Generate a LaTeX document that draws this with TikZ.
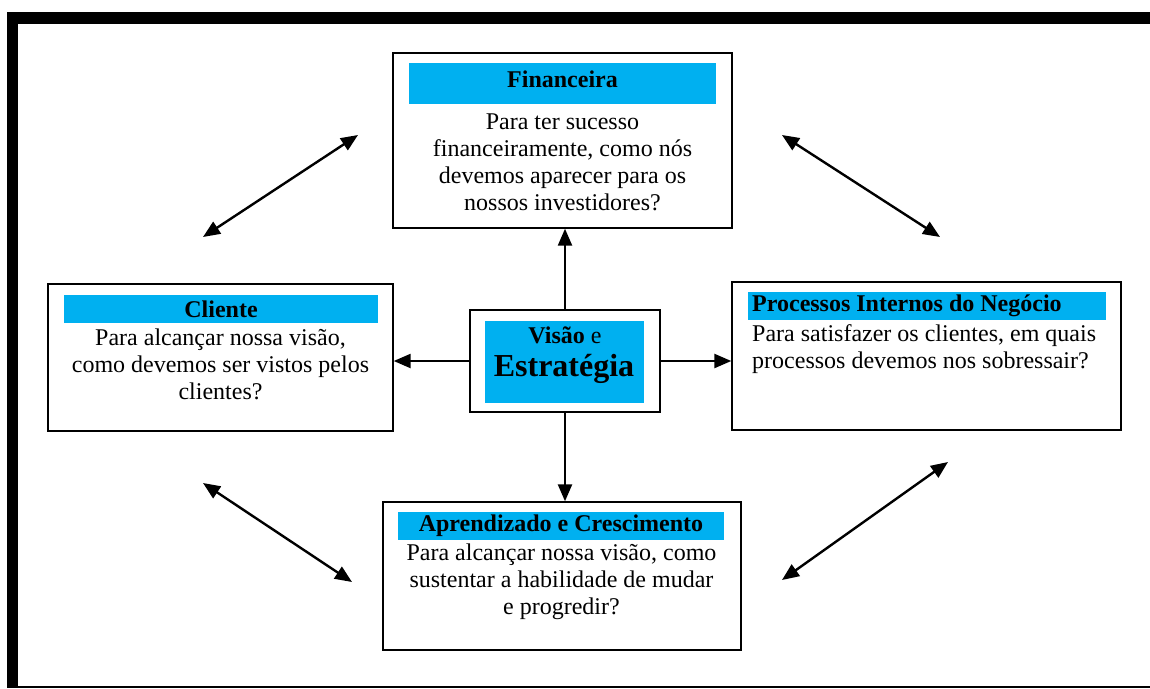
\documentclass[tikz,border=0pt]{standalone}
\usepackage{fontspec}
\setmainfont{Liberation Serif}
\usetikzlibrary{arrows.meta}
\definecolor{barblue}{RGB}{0,176,240}
\begin{document}
\begin{tikzpicture}[x=1pt,y=-1pt,
  box/.style={draw=black, line width=1.4pt, fill=white, inner sep=0pt},
  bar/.style={fill=barblue, inner sep=0pt, font=\fontsize{24}{27}\selectfont\bfseries},
  txt/.style={inner sep=0pt, align=center, font=\fontsize{24}{27}\selectfont},
  tip/.style={Triangle[length=17pt,width=14pt]},
  arr/.style={line width=2.4pt, -{Triangle[length=17pt,width=14pt]}},
  darr/.style={line width=2.4pt, {Triangle[length=17pt,width=14pt]}-{Triangle[length=17pt,width=14pt]}}]
\useasboundingbox (0,0) rectangle (1150,688);
% frame
\fill[black] (7,12) rectangle (1150,24);
\fill[black] (7,12) rectangle (18,688);
\fill[black] (7,686) rectangle (1150,688);
% Financeira
\node[box, minimum width=339pt, minimum height=175pt] (fin) at (562.5,140.5) {};
\node[fill=barblue, inner sep=0pt, minimum width=307pt, minimum height=41pt] (finbar) at (562.5,83.5) {};
\node[inner sep=0pt, font=\fontsize{24}{27}\selectfont\bfseries] (fintitle) at (562.5,79) {Financeira};
\node[txt] (fintxt) at (562.5,162.5) {Para ter sucesso\\financeiramente, como nós\\devemos aparecer para os\\nossos investidores?};
% Cliente
\node[box, minimum width=345pt, minimum height=147pt] (cli) at (220.5,357.5) {};
\node[bar, minimum width=314pt, minimum height=28pt] (clibar) at (221,309) {Cliente};
\node[txt] (clitxt) at (220.5,364.5) {Para alcançar nossa visão,\\como devemos ser vistos pelos\\clientes?};
% Visao e Estrategia
\node[box, minimum width=190pt, minimum height=102pt] (vis) at (565,361) {};
\node[fill=barblue, inner sep=0pt, minimum width=159pt, minimum height=82pt] (visbar) at (564.5,362) {};
\node[inner sep=0pt, font=\fontsize{24}{27}\selectfont] (vistxt1) at (565,335) {\textbf{Visão} e};
\node[inner sep=0pt, font=\fontsize{32}{36}\selectfont\bfseries] (vistxt2) at (564,369) {Estratégia};
% Processos
\node[box, minimum width=389pt, minimum height=148pt] (pro) at (926.5,356) {};
\node[fill=barblue, inner sep=0pt, minimum width=358pt, minimum height=28pt] (probar) at (927,306) {};
\node[inner sep=0pt, anchor=west, font=\fontsize{24}{27}\selectfont\bfseries] (protitle) at (752,306) {Processos Internos do Negócio};
\node[txt, align=left, anchor=west] (protxt) at (752,349) {Para satisfazer os clientes, em quais\\processos devemos nos sobressair?};
% Aprendizado
\node[box, minimum width=358pt, minimum height=148pt] (apr) at (562,576) {};
\node[bar, minimum width=326pt, minimum height=28pt] (aprbar) at (561,526) {Aprendizado e Crescimento};
\node[txt] (aprtxt) at (561.5,581.5) {Para alcançar nossa visão, como\\sustentar a habilidade de mudar\\e progredir?};
% center arrows
\draw[arr] (vis.north) -- (vis.north |- fin.south);
\draw[arr] (vis.south) -- (vis.south |- apr.north);
\draw[arr] (vis.west) -- (vis.west -| cli.east);
\draw[arr] (vis.east) -- (vis.east -| pro.west);
% diagonal arrows
\coordinate (a1) at (203,237);
\coordinate (a2) at (358,135);
\coordinate (b1) at (782,135);
\coordinate (b2) at (940,237);
\coordinate (c1) at (203,483);
\coordinate (c2) at (352,582);
\coordinate (d1) at (782,580);
\coordinate (d2) at (948,462);
\draw[darr] (a1) -- (a2);
\draw[darr] (b1) -- (b2);
\draw[darr] (c1) -- (c2);
\draw[darr] (d1) -- (d2);
\end{tikzpicture}
\end{document}
